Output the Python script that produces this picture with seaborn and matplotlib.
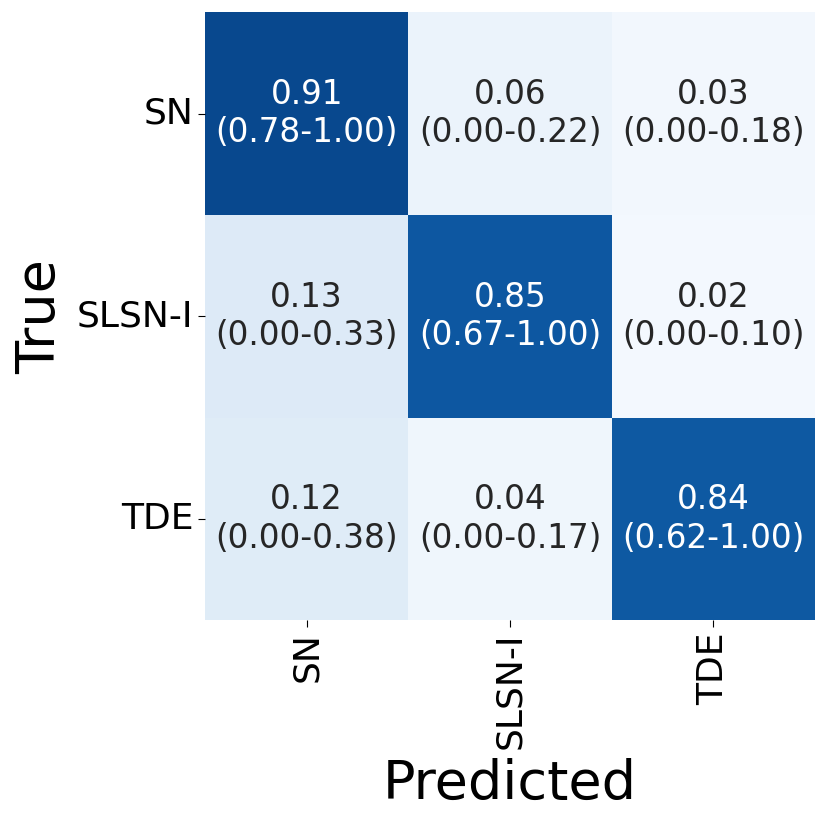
import numpy as np
import seaborn as sns
import matplotlib.pyplot as plt

labels = ["SN", "SLSN-I", "TDE"]
rates = np.array([[0.91, 0.06, 0.03],
                  [0.13, 0.85, 0.02],
                  [0.12, 0.04, 0.84]])
lower = np.array([[0.78, 0.00, 0.00],
                  [0.00, 0.67, 0.00],
                  [0.00, 0.00, 0.62]])
upper = np.array([[1.00, 0.22, 0.18],
                  [0.33, 1.00, 0.10],
                  [0.38, 0.17, 1.00]])

annot = np.array([[f"{rates[i, j]:.2f}\n({lower[i, j]:.2f}-{upper[i, j]:.2f})"
                   for j in range(3)] for i in range(3)])

fig = plt.figure(figsize=(8.3, 8.26), dpi=100)
ax = fig.add_axes([0.247, 0.249, 0.735, 0.736])
sns.heatmap(rates, annot=annot, fmt="", cmap="Blues", vmin=0, vmax=1,
            cbar=False, square=False, ax=ax,
            xticklabels=labels, yticklabels=labels,
            annot_kws={"fontsize": 23.5})
ax.tick_params(axis="both", labelsize=26, length=5)
plt.setp(ax.get_xticklabels(), rotation=90)
plt.setp(ax.get_yticklabels(), rotation=0)
ax.set_xlabel("Predicted", fontsize=39, labelpad=7)
ax.set_ylabel("True", fontsize=39, labelpad=8)
fig.savefig("out.png", dpi=100)
